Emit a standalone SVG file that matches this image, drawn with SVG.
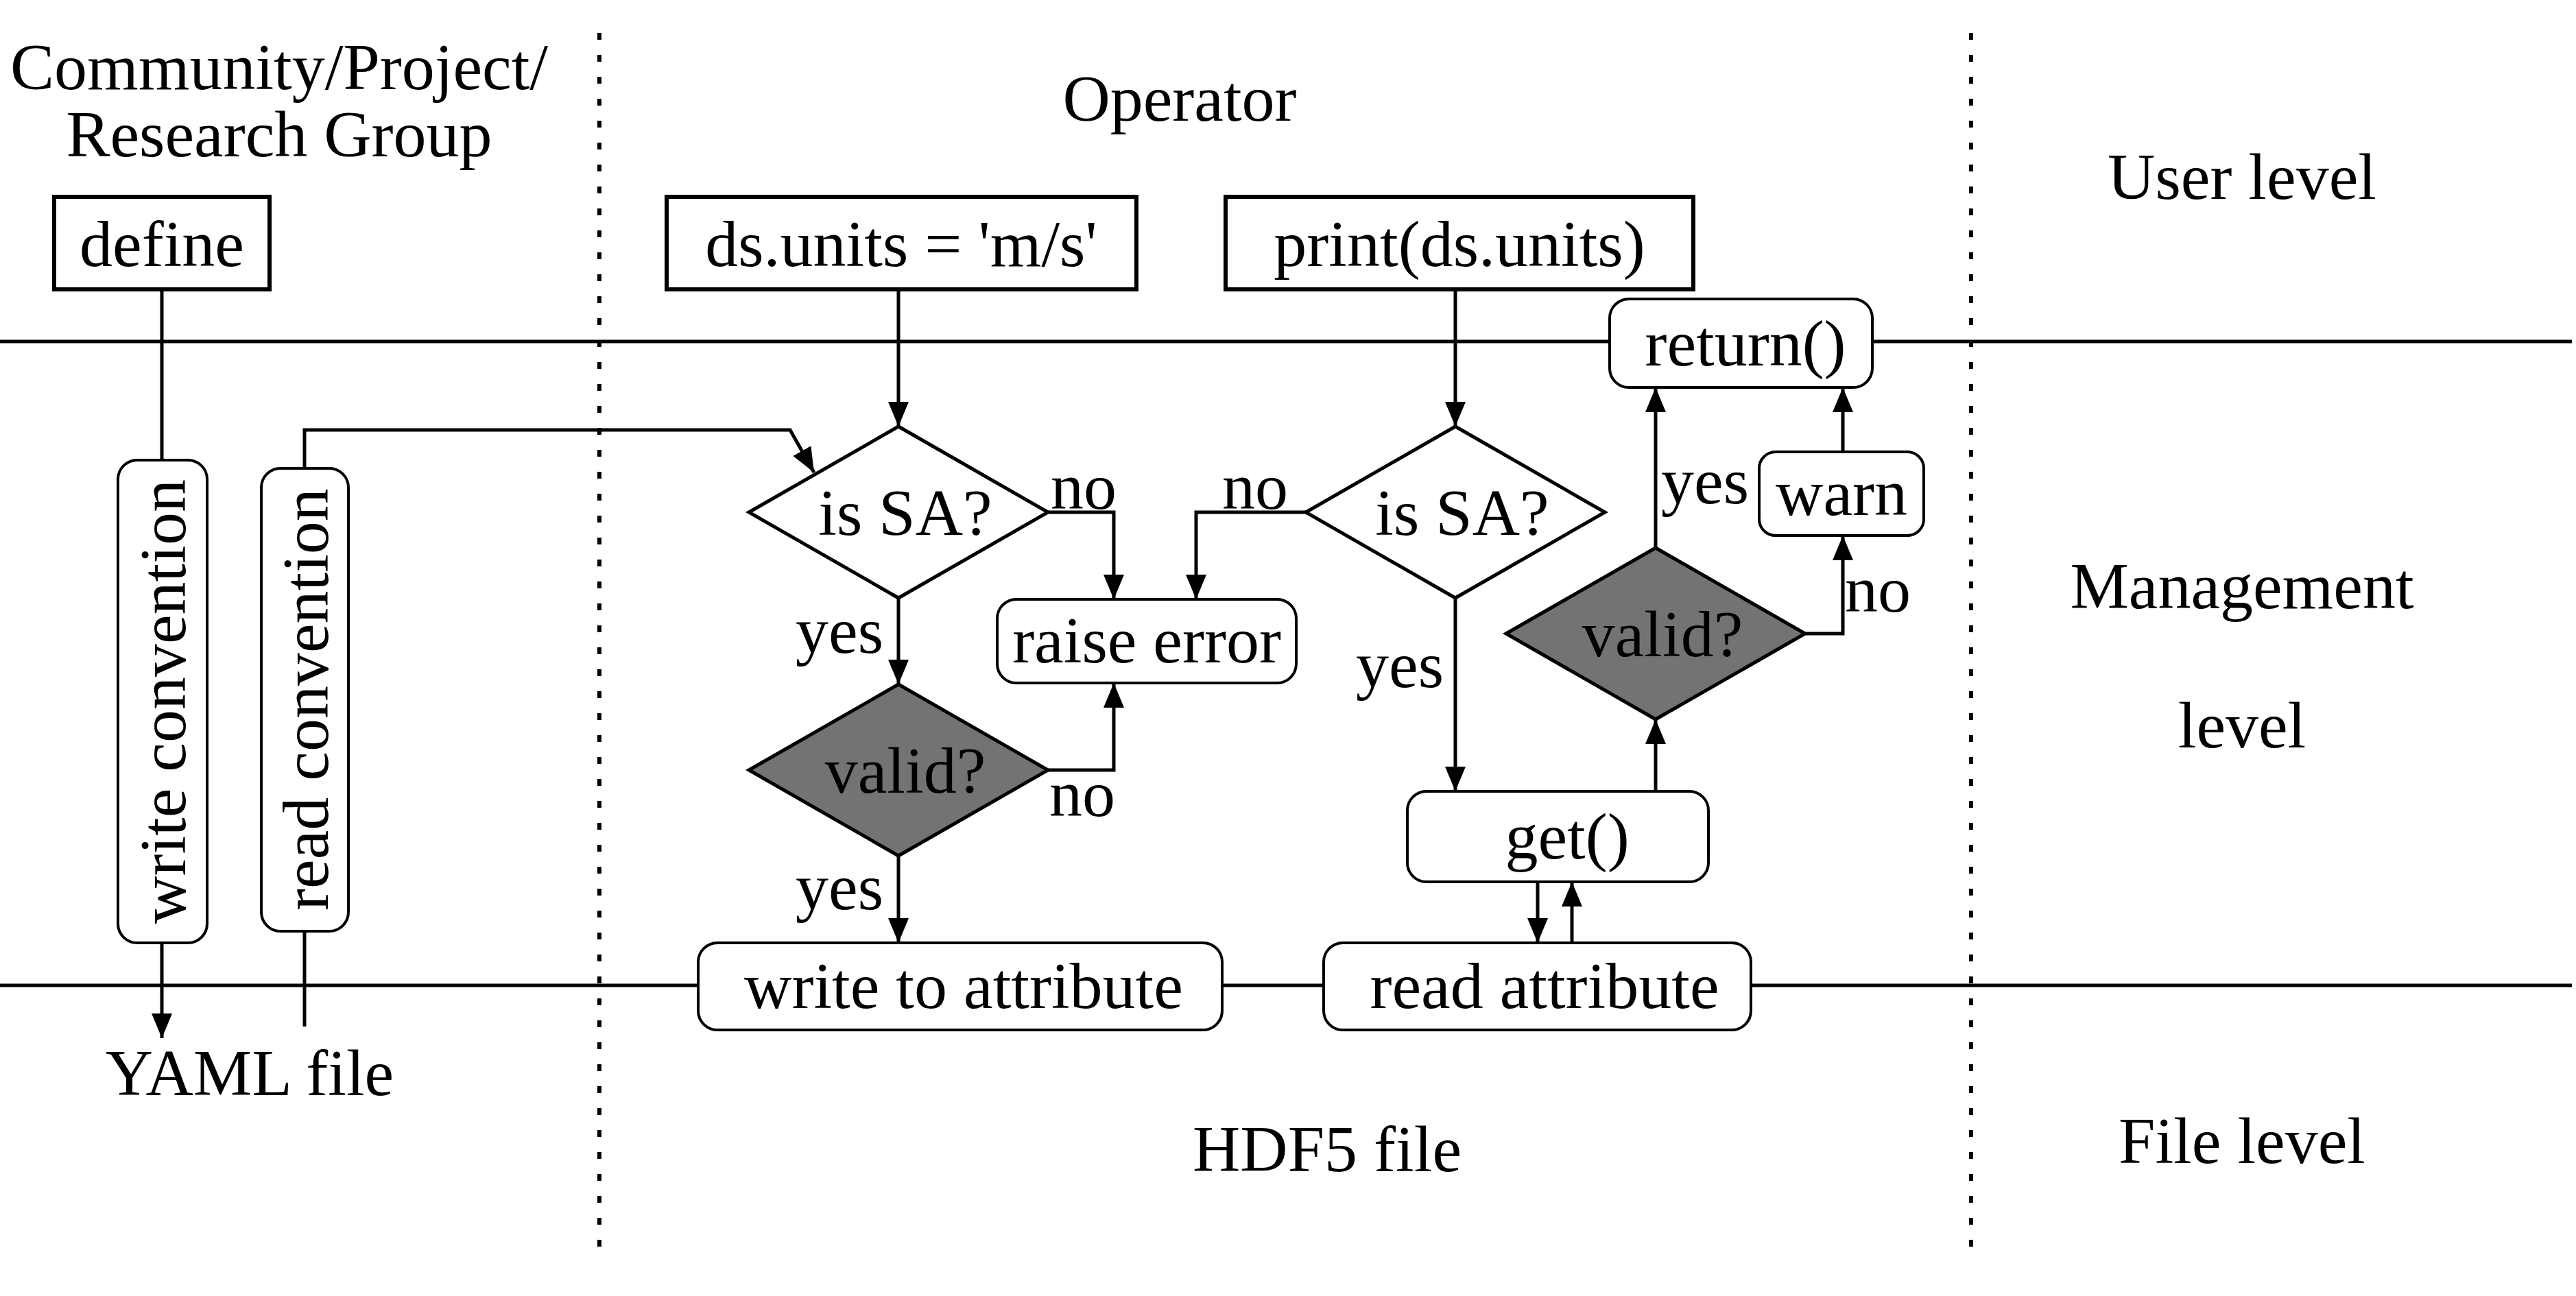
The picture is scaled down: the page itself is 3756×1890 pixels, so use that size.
<svg xmlns="http://www.w3.org/2000/svg" width="3756" height="1890" viewBox="0 0 3756 1890">
<style>
text{font-family:"Liberation Serif","Times New Roman",serif;font-size:96px;fill:#000;text-anchor:middle}
.box{fill:#fff;stroke:#000;stroke-width:6}
.rbox{fill:#fff;stroke:#000;stroke-width:4}
.dia{fill:#fff;stroke:#000;stroke-width:5}
.gdia{fill:#737373;stroke:#000;stroke-width:5}
.ln{fill:none;stroke:#000;stroke-width:5}
.arr{fill:none;stroke:#000;stroke-width:5;marker-end:url(#ah)}
.dot{stroke:#000;stroke-width:6;stroke-dasharray:10 22}
</style>
<defs>
<marker id="ah" markerUnits="userSpaceOnUse" markerWidth="36" markerHeight="30" viewBox="0 0 36 30" refX="36" refY="15" orient="auto">
<path d="M0,0 L36,15 L0,30 z" fill="#000"/>
</marker>
</defs>
<rect width="3756" height="1890" fill="#fff"/>
<g id="swimlanes">
<line class="dot" x1="874" y1="48" x2="874" y2="1825"/>
<line class="dot" x1="2874" y1="48" x2="2874" y2="1825"/>
<line class="ln" x1="0" y1="498" x2="3750" y2="498"/>
<line class="ln" x1="0" y1="1437" x2="3750" y2="1437"/>
</g>
<g id="labels">
<text x="407" y="130">Community/Project/</text>
<text x="407" y="228">Research Group</text>
<text x="1720" y="176">Operator</text>
<text x="3269" y="290">User level</text>
<text x="3269" y="887">Management</text>
<text x="3269" y="1090">level</text>
<text x="3269" y="1696">File level</text>
<text x="1935" y="1708">HDF5 file</text>
<text x="364" y="1597">YAML file</text>
</g>
<g id="connectors">
<line class="ln" x1="236" y1="422" x2="236" y2="671"/>
<line class="arr" x1="236" y1="1375" x2="236" y2="1514"/>
<line class="ln" x1="444" y1="1358" x2="444" y2="1497"/>
<polyline class="arr" points="444,683 444,627 1152,627 1187,689"/>
<line class="arr" x1="1310" y1="422" x2="1310" y2="622"/>
<polyline class="arr" points="1528,747 1624,747 1624,874"/>
<line class="arr" x1="1310" y1="872" x2="1310" y2="998"/>
<polyline class="arr" points="1528,1123 1624,1123 1624,996"/>
<line class="arr" x1="1310" y1="1248" x2="1310" y2="1375"/>
<line class="arr" x1="2122" y1="422" x2="2122" y2="622"/>
<polyline class="arr" points="1904,747 1744,747 1744,874"/>
<line class="arr" x1="2122" y1="872" x2="2122" y2="1154"/>
<line class="arr" x1="2242" y1="1286" x2="2242" y2="1375"/>
<line class="arr" x1="2292" y1="1375" x2="2292" y2="1286"/>
<line class="arr" x1="2414" y1="1154" x2="2414" y2="1049"/>
<line class="arr" x1="2414" y1="799" x2="2414" y2="565"/>
<polyline class="arr" points="2632,924 2687,924 2687,781"/>
<line class="arr" x1="2687" y1="659" x2="2687" y2="565"/>
<text x="1580" y="742">no</text>
<text x="1224" y="952">yes</text>
<text x="1578" y="1190">no</text>
<text x="1224" y="1326">yes</text>
<text x="1830" y="742">no</text>
<text x="2041" y="1002">yes</text>
<text x="2486" y="734">yes</text>
<text x="2738" y="892">no</text>
</g>
<g id="define"><rect class="box" x="79" y="287" width="314" height="135"/><text x="236" y="388">define</text></g>
<g id="set"><rect class="box" x="972" y="287" width="685" height="135"/><text x="1314" y="388">ds.units = 'm/s'</text></g>
<g id="print"><rect class="box" x="1787" y="287" width="682" height="135"/><text x="2128" y="388">print(ds.units)</text></g>
<g id="return"><rect class="rbox" x="2347" y="436" width="383" height="129" rx="28"/><text x="2545" y="533">return()</text></g>
<g id="writeconv"><rect class="rbox" x="172" y="671" width="130" height="704" rx="28"/><text transform="translate(270,1023) rotate(-90)">write convention</text></g>
<g id="readconv"><rect class="rbox" x="381" y="683" width="127" height="675" rx="28"/><text transform="translate(478,1020) rotate(-90)">read convention</text></g>
<g id="issa1"><polygon class="dia" points="1092,747 1310,622 1528,747 1310,872"/><text x="1320" y="780">is SA?</text></g>
<g id="raise"><rect class="rbox" x="1454" y="874" width="436" height="122" rx="28"/><text x="1672" y="966">raise error</text></g>
<g id="valid1"><polygon class="gdia" points="1092,1123 1310,998 1528,1123 1310,1248"/><text x="1320" y="1156">valid?</text></g>
<g id="writeattr"><rect class="rbox" x="1018" y="1375" width="764" height="127" rx="28"/><text x="1405" y="1470">write to attribute</text></g>
<g id="readattr"><rect class="rbox" x="1930" y="1375" width="623" height="127" rx="28"/><text x="2252" y="1470">read attribute</text></g>
<g id="issa2"><polygon class="dia" points="1904,747 2122,622 2340,747 2122,872"/><text x="2132" y="780">is SA?</text></g>
<g id="get"><rect class="rbox" x="2052" y="1154" width="439" height="132" rx="28"/><text x="2285" y="1252">get()</text></g>
<g id="valid2"><polygon class="gdia" points="2196,924 2414,799 2632,924 2414,1049"/><text x="2424" y="957">valid?</text></g>
<g id="warn"><rect class="rbox" x="2565" y="659" width="240" height="122" rx="24"/><text x="2685" y="751">warn</text></g>
</svg>
